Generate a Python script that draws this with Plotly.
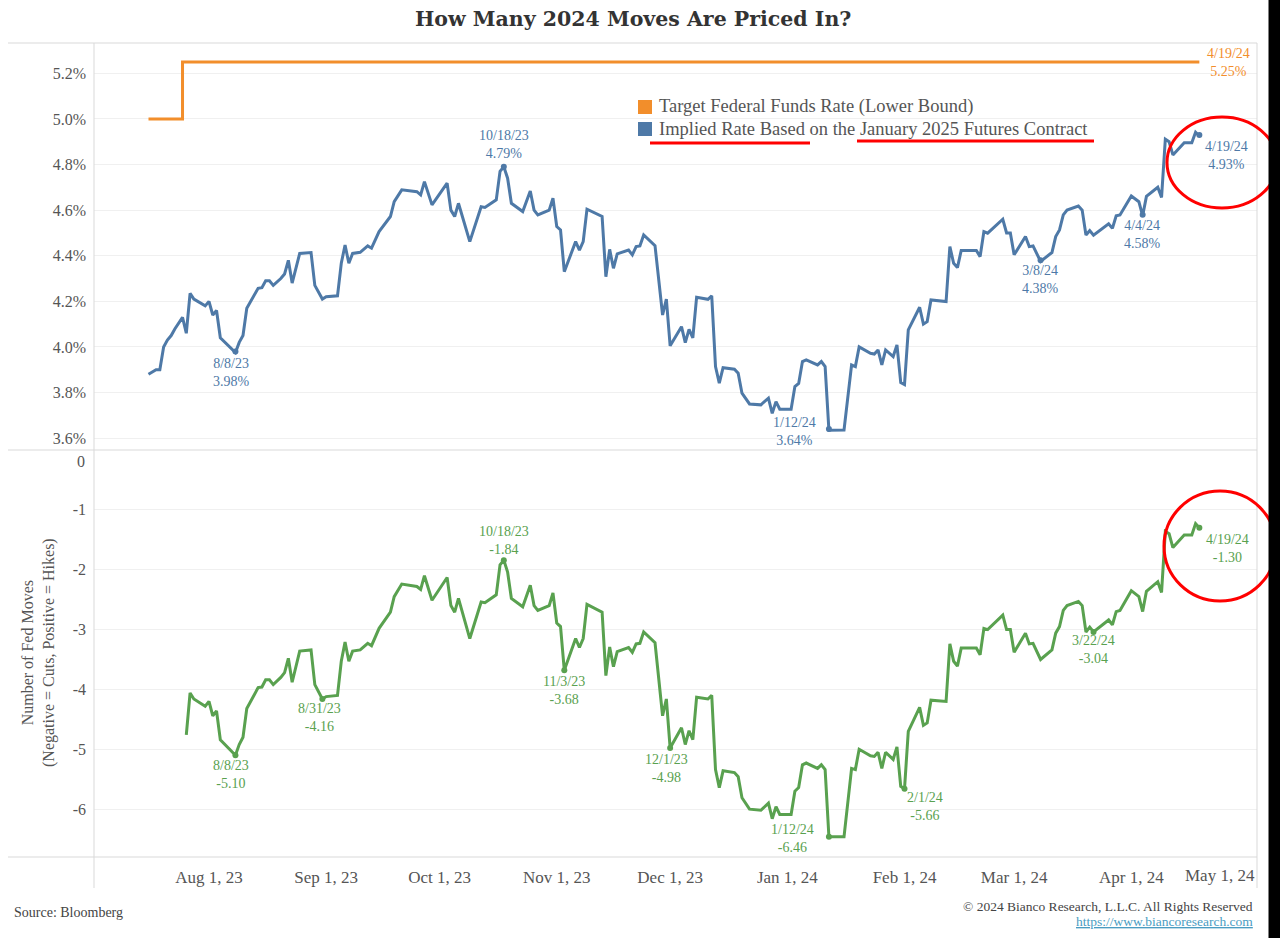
import plotly.graph_objects as go

# ---------------- data ----------------
target_dates = ["2023-07-16", "2023-07-25", "2024-04-19"]
target_values = [5.00, 5.25, 5.25]

implied_dates = [
    "2023-07-16", "2023-07-18", "2023-07-19", "2023-07-20", "2023-07-21", "2023-07-22", "2023-07-23", "2023-07-25",
    "2023-07-26", "2023-07-27", "2023-07-28", "2023-07-31", "2023-08-01", "2023-08-02", "2023-08-03", "2023-08-04",
    "2023-08-08", "2023-08-09", "2023-08-10", "2023-08-11", "2023-08-14", "2023-08-15", "2023-08-16", "2023-08-17",
    "2023-08-18", "2023-08-20", "2023-08-21", "2023-08-22", "2023-08-23", "2023-08-25", "2023-08-28", "2023-08-29",
    "2023-08-31", "2023-09-01", "2023-09-04", "2023-09-05", "2023-09-06", "2023-09-07", "2023-09-08", "2023-09-10",
    "2023-09-12", "2023-09-13", "2023-09-15", "2023-09-17", "2023-09-18", "2023-09-19", "2023-09-21", "2023-09-25",
    "2023-09-26", "2023-09-27", "2023-09-29", "2023-10-03", "2023-10-04", "2023-10-05", "2023-10-06", "2023-10-09",
    "2023-10-12", "2023-10-13", "2023-10-16", "2023-10-17", "2023-10-18", "2023-10-19", "2023-10-20", "2023-10-23",
    "2023-10-25", "2023-10-26", "2023-10-27", "2023-10-30", "2023-10-31", "2023-11-01", "2023-11-02", "2023-11-03",
    "2023-11-06", "2023-11-07", "2023-11-08", "2023-11-09", "2023-11-13", "2023-11-14", "2023-11-15", "2023-11-16",
    "2023-11-17", "2023-11-20", "2023-11-21", "2023-11-22", "2023-11-23", "2023-11-24", "2023-11-27", "2023-11-29",
    "2023-11-30", "2023-12-01", "2023-12-04", "2023-12-05", "2023-12-06", "2023-12-07", "2023-12-08", "2023-12-11",
    "2023-12-12", "2023-12-13", "2023-12-14", "2023-12-15", "2023-12-18", "2023-12-19", "2023-12-20", "2023-12-22",
    "2023-12-25", "2023-12-27", "2023-12-28", "2023-12-29", "2023-12-30", "2024-01-02", "2024-01-03", "2024-01-04",
    "2024-01-05", "2024-01-06", "2024-01-09", "2024-01-10", "2024-01-11", "2024-01-12", "2024-01-16", "2024-01-18",
    "2024-01-19", "2024-01-20", "2024-01-23", "2024-01-24", "2024-01-25", "2024-01-26", "2024-01-27", "2024-01-29",
    "2024-01-30", "2024-01-31", "2024-02-01", "2024-02-02", "2024-02-05", "2024-02-06", "2024-02-07", "2024-02-08",
    "2024-02-12", "2024-02-13", "2024-02-14", "2024-02-15", "2024-02-16", "2024-02-20", "2024-02-21", "2024-02-22",
    "2024-02-23", "2024-02-27", "2024-02-28", "2024-02-29", "2024-03-01", "2024-03-04", "2024-03-05", "2024-03-06",
    "2024-03-08", "2024-03-11", "2024-03-12", "2024-03-13", "2024-03-14", "2024-03-15", "2024-03-18", "2024-03-19",
    "2024-03-20", "2024-03-21", "2024-03-22", "2024-03-26", "2024-03-27", "2024-03-28", "2024-03-29", "2024-04-01",
    "2024-04-03", "2024-04-04", "2024-04-05", "2024-04-08", "2024-04-09", "2024-04-10", "2024-04-11", "2024-04-12",
    "2024-04-15", "2024-04-17", "2024-04-18", "2024-04-19",
]
implied_values = [
    3.88, 3.90, 3.90, 4.00, 4.03, 4.05, 4.08, 4.13,
    4.06, 4.235, 4.21, 4.18, 4.20, 4.14, 4.16, 4.04,
    3.975, 4.02, 4.05, 4.17, 4.257, 4.26, 4.29, 4.29,
    4.27, 4.30, 4.32, 4.38, 4.28, 4.41, 4.414, 4.27,
    4.21, 4.22, 4.224, 4.367, 4.447, 4.367, 4.41, 4.415,
    4.443, 4.433, 4.506, 4.55, 4.572, 4.637, 4.689, 4.681,
    4.667, 4.725, 4.623, 4.718, 4.60, 4.572, 4.63, 4.462,
    4.615, 4.612, 4.645, 4.77, 4.79, 4.74, 4.63, 4.594,
    4.684, 4.60, 4.579, 4.60, 4.652, 4.528, 4.513, 4.33,
    4.462, 4.425, 4.462, 4.604, 4.572, 4.308, 4.428, 4.345,
    4.408, 4.425, 4.404, 4.44, 4.443, 4.491, 4.444, 4.14,
    4.21, 4.005, 4.089, 4.019, 4.077, 4.04, 4.218, 4.209,
    4.224, 3.914, 3.841, 3.909, 3.902, 3.885, 3.797, 3.75,
    3.746, 3.775, 3.709, 3.76, 3.727, 3.727, 3.826, 3.84,
    3.936, 3.943, 3.921, 3.936, 3.914, 3.635, 3.636, 3.921,
    3.914, 4.00, 3.972, 3.969, 3.987, 3.921, 3.987, 3.958,
    4.009, 3.844, 3.835, 4.075, 4.174, 4.10, 4.111, 4.206,
    4.199, 4.44, 4.367, 4.348, 4.423, 4.423, 4.396, 4.506,
    4.499, 4.56, 4.50, 4.50, 4.404, 4.484, 4.44, 4.443,
    4.375, 4.414, 4.484, 4.513, 4.579, 4.60, 4.618, 4.60,
    4.491, 4.51, 4.49, 4.54, 4.52, 4.575, 4.579, 4.662,
    4.637, 4.575, 4.66, 4.70, 4.656, 4.911, 4.90, 4.842,
    4.896, 4.896, 4.942, 4.925,
]

# number of Fed moves starts once the July hike is in place
moves_dates = implied_dates[8:]
moves_values = [
    -4.76, -4.06, -4.16, -4.28, -4.20, -4.44, -4.36, -4.84,
    -5.10, -4.92, -4.80, -4.32, -3.97, -3.96, -3.84, -3.84,
    -3.92, -3.80, -3.72, -3.48, -3.88, -3.36, -3.34, -3.92,
    -4.16, -4.12, -4.10, -3.53, -3.21, -3.53, -3.36, -3.34,
    -3.23, -3.27, -2.98, -2.80, -2.71, -2.45, -2.24, -2.28,
    -2.33, -2.10, -2.51, -2.13, -2.60, -2.71, -2.48, -3.15,
    -2.54, -2.55, -2.42, -1.92, -1.84, -2.04, -2.48, -2.62,
    -2.26, -2.60, -2.68, -2.60, -2.39, -2.89, -2.95, -3.68,
    -3.15, -3.30, -3.15, -2.58, -2.71, -3.77, -3.29, -3.62,
    -3.37, -3.30, -3.38, -3.24, -3.23, -3.04, -3.22, -4.44,
    -4.16, -4.98, -4.64, -4.92, -4.69, -4.84, -4.13, -4.16,
    -4.10, -5.34, -5.64, -5.36, -5.39, -5.46, -5.81, -6.00,
    -6.02, -5.90, -6.16, -5.96, -6.09, -6.09, -5.70, -5.64,
    -5.26, -5.23, -5.32, -5.26, -5.34, -6.46, -6.46, -5.32,
    -5.34, -5.00, -5.11, -5.12, -5.05, -5.32, -5.05, -5.17,
    -4.96, -5.62, -5.66, -4.70, -4.30, -4.60, -4.56, -4.18,
    -4.20, -3.24, -3.53, -3.61, -3.31, -3.31, -3.42, -2.98,
    -3.00, -2.76, -3.00, -3.00, -3.38, -3.06, -3.24, -3.23,
    -3.50, -3.34, -3.06, -2.95, -2.68, -2.60, -2.53, -2.60,
    -3.04, -2.96, -3.04, -2.84, -2.92, -2.70, -2.68, -2.35,
    -2.45, -2.70, -2.36, -2.20, -2.38, -1.36, -1.40, -1.63,
    -1.42, -1.42, -1.23, -1.30,
]

# labelled points
rate_label_dates = ["2023-08-08", "2023-10-18", "2024-01-12", "2024-03-08", "2024-04-04", "2024-04-19"]
rate_label_text = ["8/8/23", "10/18/23", "1/12/24", "3/8/24", "4/4/24", "4/19/24"]
rate_label_values = [3.98, 4.79, 3.64, 4.38, 4.58, 4.93]

target_label_date = "2024-04-19"
target_label_text = "4/19/24"
target_label_value = 5.25

moves_label_dates = ["2023-08-08", "2023-08-31", "2023-10-18", "2023-11-03", "2023-12-01",
                     "2024-01-12", "2024-02-01", "2024-03-22", "2024-04-19"]
moves_label_text = ["8/8/23", "8/31/23", "10/18/23", "11/3/23", "12/1/23",
                    "1/12/24", "2/1/24", "3/22/24", "4/19/24"]
moves_label_values = [-5.10, -4.16, -1.84, -3.68, -4.98, -6.46, -5.66, -3.04, -1.30]

month_ticks = ["2023-08-01", "2023-09-01", "2023-10-01", "2023-11-01", "2023-12-01",
               "2024-01-01", "2024-02-01", "2024-03-01", "2024-04-01"]
month_labels = ["Aug 1, 23", "Sep 1, 23", "Oct 1, 23", "Nov 1, 23", "Dec 1, 23",
                "Jan 1, 24", "Feb 1, 24", "Mar 1, 24", "Apr 1, 24"]
last_month_label = "May 1, 24"

rate_ticks = [3.6, 3.8, 4.0, 4.2, 4.4, 4.6, 4.8, 5.0, 5.2]
moves_ticks = [-6, -5, -4, -3, -2, -1]

# ---------------- styling ----------------
ORANGE = "#F28E2B"
BLUE = "#4E79A7"
GREEN = "#59A14F"
TEXT = "#555555"
FONT = "Georgia, 'Liberation Serif', serif"

W, H = 1280, 938
L, R, T, B = 94, 1257, 43, 857


def fx(px):
    return (px - L) / (R - L)


def fy(py):
    return (B - py) / (B - T)


fig = go.Figure()

fig.add_trace(go.Scatter(x=target_dates, y=target_values, mode="lines", line=dict(color=ORANGE, width=3, shape="hv"),
                         xaxis="x", yaxis="y", name="Target Federal Funds Rate (Lower Bound)", hoverinfo="skip"))
fig.add_trace(go.Scatter(x=implied_dates, y=implied_values, mode="lines", line=dict(color=BLUE, width=3),
                         xaxis="x", yaxis="y", name="Implied Rate Based on the January 2025 Futures Contract"))
fig.add_trace(go.Scatter(x=rate_label_dates, y=rate_label_values, mode="markers",
                         marker=dict(color=BLUE, size=6), xaxis="x", yaxis="y", hoverinfo="skip"))
fig.add_trace(go.Scatter(x=moves_dates, y=moves_values, mode="lines", line=dict(color=GREEN, width=3),
                         xaxis="x", yaxis="y2", name="Number of Fed Moves"))
fig.add_trace(go.Scatter(x=moves_label_dates, y=moves_label_values, mode="markers",
                         marker=dict(color=GREEN, size=6), xaxis="x", yaxis="y2", hoverinfo="skip"))

annotations = []

# point labels
rate_shifts = [(-4, -21), (0, 22), (-34, -2), (0, -19), (0, -20), (27, -21)]
for d, t, v, (sx, sy) in zip(rate_label_dates, rate_label_text, rate_label_values, rate_shifts):
    annotations.append(dict(x=d, y=v, xref="x", yref="y", text=f"{t}<br>{v:.2f}%", showarrow=False,
                            xshift=sx, yshift=sy, font=dict(family=FONT, size=14, color=BLUE)))
annotations.append(dict(x=target_label_date, y=target_label_value, xref="x", yref="y",
                        text=f"{target_label_text}<br>{target_label_value:.2f}%", showarrow=False,
                        xshift=29, yshift=-1, font=dict(family=FONT, size=14, color=ORANGE)))

moves_shifts = [(-4, -19), (-3, -19), (0, 20), (0, -20), (-4, -20), (-36, -2), (20, -18), (0, -18), (28, -21)]
for d, t, v, (sx, sy) in zip(moves_label_dates, moves_label_text, moves_label_values, moves_shifts):
    annotations.append(dict(x=d, y=v, xref="x", yref="y2", text=f"{t}<br>{v:.2f}", showarrow=False,
                            xshift=sx, yshift=sy, font=dict(family=FONT, size=14, color=GREEN)))

# title
annotations.append(dict(x=fx(633), y=fy(19), xref="paper", yref="paper", showarrow=False,
                        text="<b>How Many 2024 Moves Are Priced In?</b>", xanchor="center", yanchor="middle",
                        font=dict(family="'DejaVu Serif', serif", size=20.5, color="#333333")))

# legend
legend_items = [("Target Federal Funds Rate (Lower Bound)", ORANGE, 107),
                ("Implied Rate Based on the January 2025 Futures Contract", BLUE, 129)]
shapes = []
for label, col, py in legend_items:
    annotations.append(dict(x=fx(657), y=fy(py), xref="paper", yref="paper", showarrow=False, text=label,
                            xanchor="left", yanchor="middle", font=dict(family=FONT, size=18.5, color=TEXT)))
    shapes.append(dict(type="rect", xref="paper", yref="paper", x0=fx(638), x1=fx(652),
                       y0=fy(py - 7), y1=fy(py + 7), fillcolor=col, line=dict(width=0)))

# extra axis labels
annotations.append(dict(x=fx(87), y=fy(461), xref="paper", yref="paper", showarrow=False, text="0",
                        xanchor="right", yanchor="middle", font=dict(family=FONT, size=16, color=TEXT)))
annotations.append(dict(x=fx(1220), y=fy(875), xref="paper", yref="paper", showarrow=False, text=last_month_label,
                        xanchor="center", yanchor="middle", font=dict(family=FONT, size=17, color=TEXT)))
annotations.append(dict(x=fx(38), y=fy(653), xref="paper", yref="paper", showarrow=False, textangle=-90,
                        text="Number of Fed Moves<br>(Negative = Cuts, Positive = Hikes)",
                        xanchor="center", yanchor="middle", font=dict(family=FONT, size=16, color=TEXT)))

# footer
annotations.append(dict(x=fx(12), y=fy(913), xref="paper", yref="paper", showarrow=False, text="Source: Bloomberg",
                        xanchor="left", yanchor="middle", font=dict(family=FONT, size=14, color="#444444")))
annotations.append(dict(x=fx(1255), y=fy(906), xref="paper", yref="paper", showarrow=False,
                        text="© 2024 Bianco Research, L.L.C. All Rights Reserved",
                        xanchor="right", yanchor="middle", font=dict(family=FONT, size=13.5, color="#444444")))
annotations.append(dict(x=fx(1255), y=fy(921), xref="paper", yref="paper", showarrow=False,
                        text="https://www.biancoresearch.com",
                        xanchor="right", yanchor="middle",
                        font=dict(family=FONT, size=13.5, color="#4A9CC2", lineposition="under")))

# frame lines
LINE_COL = "#d9d9d9"
for py in (43, 450, 857):
    shapes.append(dict(type="line", xref="paper", yref="paper", x0=fx(8), x1=fx(1257), y0=fy(py), y1=fy(py),
                       line=dict(color=LINE_COL, width=1)))
for px in (94, 1257):
    shapes.append(dict(type="line", xref="paper", yref="paper", x0=fx(px), x1=fx(px), y0=fy(43), y1=fy(888),
                       line=dict(color=LINE_COL, width=1)))

# red highlight marks
RED = "#FF0000"
shapes.append(dict(type="line", xref="paper", yref="paper", x0=fx(650), x1=fx(810), y0=fy(143), y1=fy(143),
                   line=dict(color=RED, width=3)))
shapes.append(dict(type="line", xref="paper", yref="paper", x0=fx(857), x1=fx(1094), y0=fy(141), y1=fy(141),
                   line=dict(color=RED, width=3)))
shapes.append(dict(type="circle", xref="paper", yref="paper", x0=fx(1167), x1=fx(1277), y0=fy(117), y1=fy(208),
                   line=dict(color=RED, width=3)))
shapes.append(dict(type="circle", xref="paper", yref="paper", x0=fx(1164), x1=fx(1276), y0=fy(491), y1=fy(601),
                   line=dict(color=RED, width=3)))
# dark strip at the right edge of the screenshot
shapes.append(dict(type="rect", xref="paper", yref="paper", x0=fx(1269), x1=fx(1290), y0=fy(945), y1=fy(-5),
                   fillcolor="#000000", line=dict(color="#000000", width=1), layer="above"))

fig.update_layout(
    width=W, height=H, autosize=False,
    margin=dict(l=L, r=W - R, t=T, b=H - B, pad=0),
    paper_bgcolor="white", plot_bgcolor="white",
    showlegend=False,
    font=dict(family=FONT, color=TEXT),
    xaxis=dict(type="date", range=["2023-07-01 14:00", "2024-05-04 06:00"], anchor="y2",
               tickmode="array", tickvals=month_ticks, ticktext=month_labels,
               showgrid=False, zeroline=False, showline=False, ticks="",
               tickfont=dict(family=FONT, size=17, color=TEXT), ticklabelstandoff=8),
    yaxis=dict(domain=[0.5, 1], range=[3.548, 5.333], anchor="x",
               tickmode="array", tickvals=rate_ticks, ticktext=[f"{v:.1f}%" for v in rate_ticks],
               showgrid=True, gridcolor="#f0f0f0", zeroline=False, showline=False, ticks="",
               tickfont=dict(family=FONT, size=16, color=TEXT), ticklabelstandoff=7),
    yaxis2=dict(domain=[0, 0.5], range=[-6.8, 0], anchor="x",
                tickmode="array", tickvals=moves_ticks, ticktext=[str(v) for v in moves_ticks],
                showgrid=True, gridcolor="#f0f0f0", zeroline=False, showline=False, ticks="",
                tickfont=dict(family=FONT, size=16, color=TEXT), ticklabelstandoff=7),
    annotations=annotations,
    shapes=shapes,
)

fig.write_html("out.html")
